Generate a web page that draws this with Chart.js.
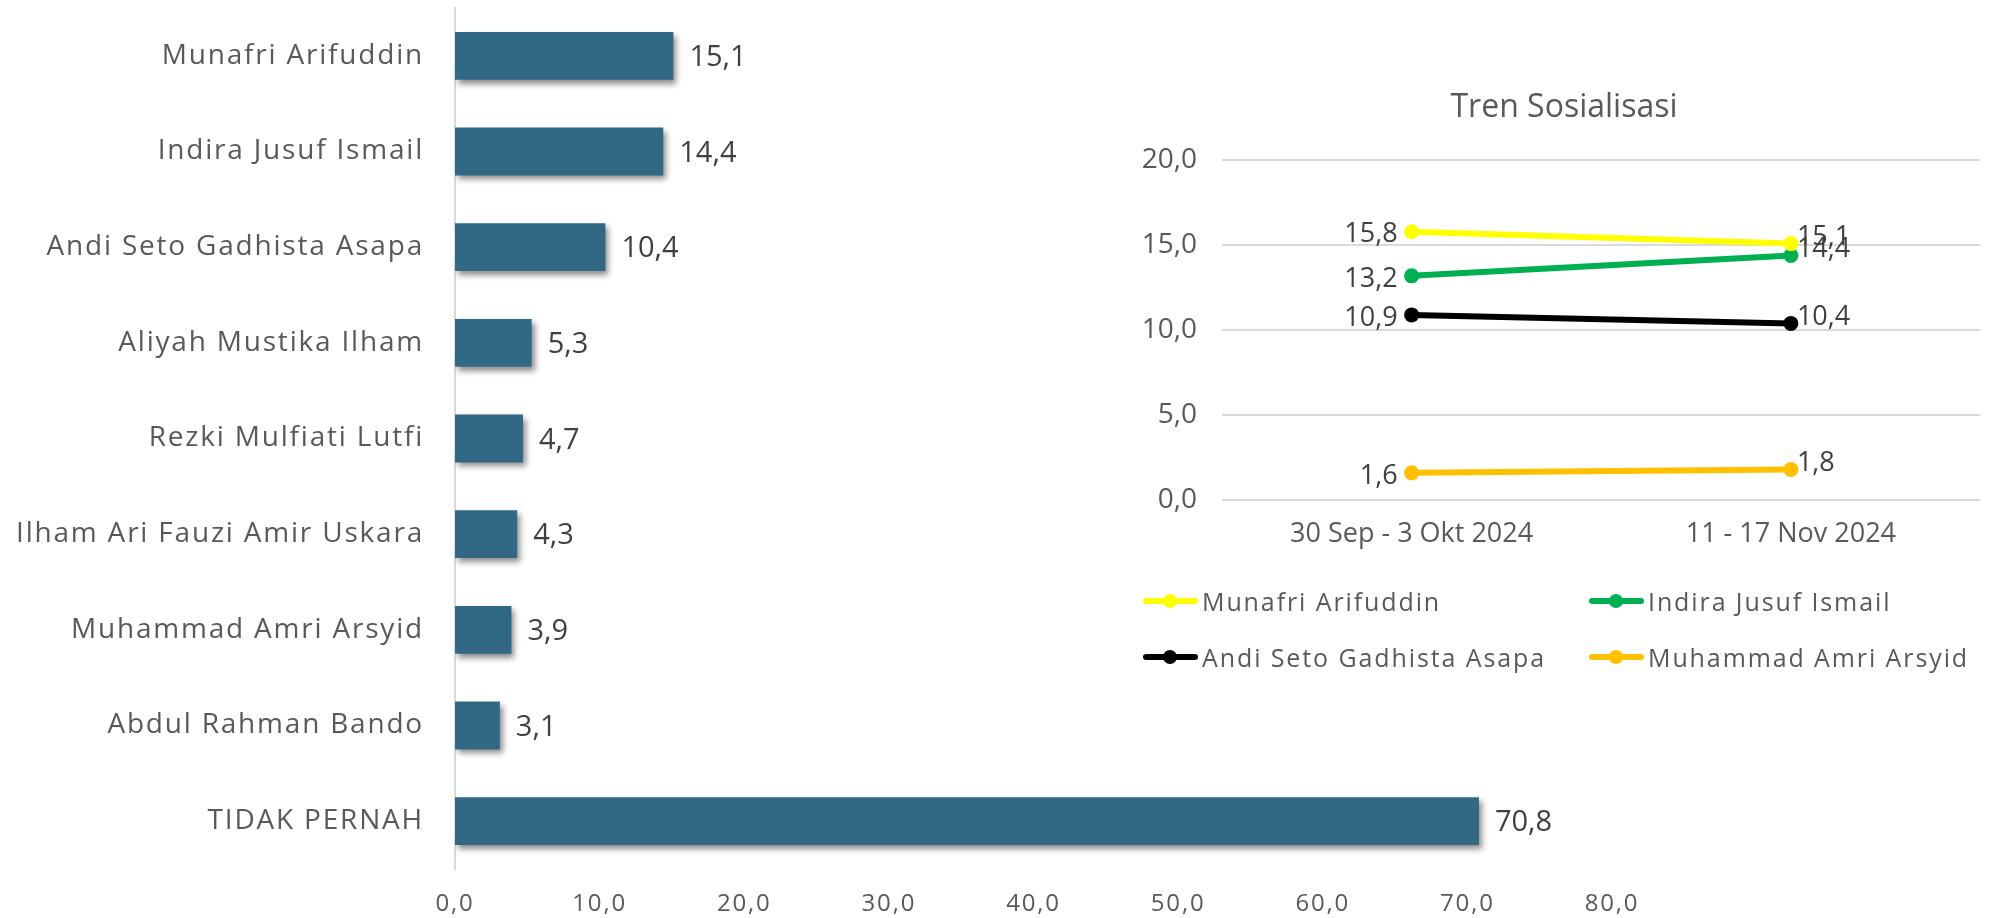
<!DOCTYPE html>
<html>
<head>
<meta charset="utf-8">
<script src="https://cdn.jsdelivr.net/npm/chart.js@4.4.1/dist/chart.umd.min.js"></script>
<style>
  body { margin: 0; background: #fff; font-family: "Open Sans", sans-serif; }
  #wrap { position: relative; width: 1997px; height: 918px; overflow: hidden; }
  #bar-chart { position: absolute; left: 0; top: 0; }
  #trend-chart { position: absolute; left: 1100px; top: 60px; }
  #trend-legend {
    position: absolute; left: 1143px; top: 573px;
    display: grid; grid-template-columns: 446px 360px; grid-auto-rows: 56px;
    font-size: 25px; letter-spacing: 1.9px; color: #595959;
  }
  .item { display: flex; align-items: center; white-space: nowrap; }
  .mark { position: relative; width: 55px; height: 20px; margin-right: 4px; flex: none; }
  .mark .ln { position: absolute; left: 0; right: 0; top: 7px; height: 6px; border-radius: 3px; }
  .mark .dot { position: absolute; left: 20px; top: 3px; width: 14px; height: 14px; border-radius: 50%; }
</style>
</head>
<body>
<div id="wrap">
  <canvas id="bar-chart" width="1997" height="918"></canvas>
  <canvas id="trend-chart" width="888" height="520"></canvas>
  <div id="trend-legend"></div>
</div>
<script>
// bar chart data
const barLabels = [
  "Munafri Arifuddin",
  "Indira Jusuf Ismail",
  "Andi Seto Gadhista Asapa",
  "Aliyah Mustika Ilham",
  "Rezki Mulfiati Lutfi",
  "Ilham Ari Fauzi Amir Uskara",
  "Muhammad Amri Arsyid",
  "Abdul Rahman Bando",
  "TIDAK PERNAH",
];
const barValues = [15.1, 14.4, 10.4, 5.3, 4.7, 4.3, 3.9, 3.1, 70.8];
const barTicks = [0, 10, 20, 30, 40, 50, 60, 70, 80];

// trend chart data
const periods = ["30 Sep - 3 Okt 2024", "11 - 17 Nov 2024"];
const trendNames = [
  "Munafri Arifuddin",
  "Indira Jusuf Ismail",
  "Andi Seto Gadhista Asapa",
  "Muhammad Amri Arsyid",
];
const munafri = [15.8, 15.1];
const indira = [13.2, 14.4];
const andi = [10.9, 10.4];
const muhammad = [1.6, 1.8];
const trendTicks = [0, 5, 10, 15, 20];
const trendColors = ["#FFFF00", "#00B050", "#000000", "#FFC000"];

function fmt(v) {
  return Number(v).toFixed(1).replace(".", ",");
}

var labelGrey = "#595959";

// wider text, the original font runs wide
function spacing(px) {
  return {
    id: "spacing",
    beforeUpdate: function (chart) { chart.ctx.letterSpacing = px; },
    beforeDraw: function (chart) { chart.ctx.letterSpacing = px; },
  };
}

// shadow under the bars
var barShadow = {
  id: "barShadow",
  beforeDatasetsDraw: function (chart) {
    var ctx = chart.ctx;
    ctx.save();
    ctx.shadowColor = "rgba(0,0,0,0.45)";
    ctx.shadowBlur = 6;
    ctx.shadowOffsetX = 3;
    ctx.shadowOffsetY = 4;
  },
  afterDatasetsDraw: function (chart) {
    chart.ctx.restore();
  },
};

// value labels at the end of bars
var barValueLabels = {
  id: "barValueLabels",
  afterDraw: function (chart) {
    var ctx = chart.ctx;
    var meta = chart.getDatasetMeta(0);
    ctx.save();
    ctx.letterSpacing = "0px";
    ctx.font = "29px 'Open Sans'";
    ctx.fillStyle = "#404040";
    ctx.textAlign = "left";
    ctx.textBaseline = "middle";
    meta.data.forEach(function (bar, i) {
      ctx.fillText(fmt(chart.data.datasets[0].data[i]), bar.x + 16, bar.y + 2);
    });
    ctx.restore();
  },
};

new Chart(document.getElementById("bar-chart"), {
  type: "bar",
  data: {
    labels: barLabels,
    datasets: [
      {
        data: barValues,
        backgroundColor: "#316883",
        barPercentage: 0.5,
        categoryPercentage: 1,
      },
    ],
  },
  options: {
    indexAxis: "y",
    responsive: false,
    animation: false,
    layout: { padding: { top: 8, right: 385, bottom: 0, left: 0 } },
    plugins: { legend: { display: false }, tooltip: { enabled: false } },
    scales: {
      x: {
        min: 0,
        max: 80,
        afterBuildTicks: function (scale) {
          scale.ticks = barTicks.map(function (v) { return { value: v }; });
        },
        afterFit: function (scale) { scale.height = 49; },
        grid: { display: false, drawTicks: false },
        border: { display: false },
        ticks: {
          padding: 21,
          color: labelGrey,
          font: { family: "Open Sans", size: 24 },
          callback: function (v) { return fmt(v); },
        },
      },
      y: {
        afterFit: function (scale) {
          scale.width = 455;
          scale.paddingTop = 0;
          scale.paddingBottom = 0;
        },
        grid: { display: false, drawTicks: false },
        border: { display: true, color: "#d9d9d9", width: 2 },
        ticks: {
          padding: 31,
          color: labelGrey,
          font: { family: "Open Sans", size: 28 },
        },
      },
    },
  },
  plugins: [spacing("1.8px"), barShadow, barValueLabels],
});

// point labels for the trend lines
var trendValueLabels = {
  id: "trendValueLabels",
  afterDatasetsDraw: function (chart) {
    var ctx = chart.ctx;
    ctx.save();
    ctx.font = "27px 'Open Sans'";
    ctx.fillStyle = "#404040";
    ctx.textBaseline = "middle";
    chart.data.datasets.forEach(function (ds, d) {
      chart.getDatasetMeta(d).data.forEach(function (pt, i) {
        if (i === 0) {
          ctx.textAlign = "right";
          ctx.fillText(fmt(ds.data[i]), pt.x - 14, pt.y + 3);
        } else {
          ctx.textAlign = "left";
          ctx.fillText(fmt(ds.data[i]), pt.x + 6, pt.y - 6);
        }
      });
    });
    ctx.restore();
  },
};

var trendSeries = [munafri, indira, andi, muhammad];

var trendChart = new Chart(document.getElementById("trend-chart"), {
  type: "line",
  data: {
    labels: periods,
    datasets: trendSeries.map(function (values, i) {
      return {
        label: trendNames[i],
        data: values,
        borderColor: trendColors[i],
        backgroundColor: trendColors[i],
        borderWidth: 6,
        pointRadius: 7.5,
        pointBorderWidth: 0,
        fill: false,
      };
    }),
  },
  options: {
    responsive: false,
    animation: false,
    layout: { padding: { top: 0, right: 0, bottom: 0, left: 40 } },
    plugins: {
      legend: { display: false },
      tooltip: { enabled: false },
      title: {
        display: true,
        text: "Tren Sosialisasi",
        color: labelGrey,
        font: { family: "Open Sans", size: 32, weight: "normal", lineHeight: 1.2 },
        padding: { top: 29, bottom: 33 },
      },
    },
    scales: {
      x: {
        offset: true,
        afterFit: function (scale) { scale.height = 80; },
        grid: { display: false, drawTicks: false },
        border: { display: false },
        ticks: {
          padding: 18,
          color: labelGrey,
          font: { family: "Open Sans", size: 27 },
        },
      },
      y: {
        min: 0,
        max: 20,
        afterBuildTicks: function (scale) {
          scale.ticks = trendTicks.map(function (v) { return { value: v }; });
        },
        afterFit: function (scale) { scale.width = 82; },
        grid: { color: "#d9d9d9", lineWidth: 2, drawTicks: false },
        border: { display: false },
        ticks: {
          padding: 25,
          color: labelGrey,
          font: { family: "Open Sans", size: 28 },
          callback: function (v) { return fmt(v); },
        },
      },
    },
  },
  plugins: [trendValueLabels],
});

// legend in two columns, built from the datasets
var legend = document.getElementById("trend-legend");
trendChart.data.datasets.forEach(function (ds) {
  var item = document.createElement("div");
  item.className = "item";
  item.innerHTML =
    '<span class="mark"><span class="ln" style="background:' + ds.borderColor +
    '"></span><span class="dot" style="background:' + ds.borderColor +
    '"></span></span><span>' + ds.label + "</span>";
  legend.appendChild(item);
});
</script>
</body>
</html>
